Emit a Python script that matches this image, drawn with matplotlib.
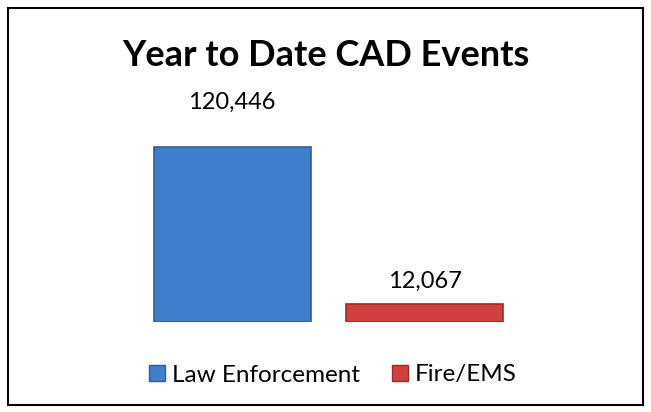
import matplotlib.pyplot as plt
from matplotlib.patches import Rectangle, Patch

# chart data
categories = ['Law Enforcement', 'Fire/EMS']
events = [120446, 12067]
title = 'Year to Date CAD Events'

bar_colors = ['#3f7ecb', '#d2403d']
edge_colors = ['#2c5f9e', '#9c2b28']
label_offsets = [32, 17]  # points above bar top

plt.rcParams['font.family'] = ['Lato', 'DejaVu Sans']

fig = plt.figure(figsize=(6.51, 4.12), dpi=100)

# outer black frame
fig.patches.append(Rectangle((8 / 651, 7 / 412), 635 / 651, 397 / 412,
                             transform=fig.transFigure, fill=False,
                             edgecolor='black', linewidth=1.5))

ax = fig.add_axes([136 / 651, 90 / 412, 385 / 651, 203.4 / 412])
x = range(len(categories))
bars = ax.bar(x, events, width=0.815, color=bar_colors,
              edgecolor=edge_colors, linewidth=1.2)

for i, b in enumerate(bars):
    ax.annotate(f'{events[i]:,}', (b.get_x() + b.get_width() / 2, b.get_height()),
                xytext=(0, label_offsets[i]), textcoords='offset points',
                ha='center', va='center', fontsize=17)

ax.set_xlim(-0.5, 1.5)
ax.set_ylim(0, 140000)
ax.axis('off')

fig.text(0.5, 1 - 55 / 412, title, ha='center', va='center',
         fontsize=26, fontweight='bold')

handles = [Patch(facecolor=c, edgecolor=e) for c, e in zip(bar_colors, edge_colors)]
fig.legend(handles, categories, loc='center', bbox_to_anchor=(333 / 651, 1 - 375 / 412),
           ncol=2, frameon=False, fontsize=17.5, handlelength=0.65, handleheight=0.65,
           handletextpad=0.3, columnspacing=1.3)

fig.savefig('out.png', dpi=100, facecolor='white')
